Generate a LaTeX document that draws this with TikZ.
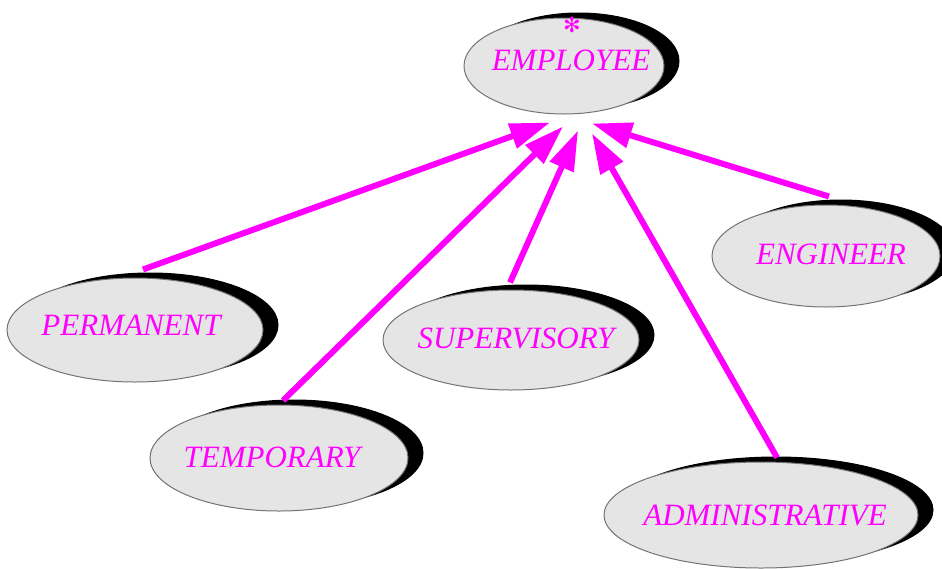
\documentclass[tikz,border=0pt]{standalone}
\usepackage{fontspec}
\setmainfont{Liberation Serif}
\newfontfamily\symfont{DejaVu Sans}
\usetikzlibrary{shapes.geometric,shadows,arrows.meta}
\definecolor{mag}{RGB}{255,0,255}
\definecolor{blobfill}{RGB}{229,229,229}
\tikzset{
  blob/.style={ellipse, inner sep=0pt, fill=blobfill, draw=black!55, line width=1pt,
    general shadow={shadow xshift=15pt, shadow yshift=5pt, fill=black, draw=black}},
  lbl/.style={text=mag, font=\fontsize{31}{31}\selectfont\itshape, inner sep=0pt},
  isa/.style={draw=mag, line width=6pt, -{Triangle[length=40pt,width=25pt]}},
}
\begin{document}
\begin{tikzpicture}[x=1pt,y=-1pt]
\useasboundingbox (0,0) rectangle (942,568);
\node[blob, minimum width=200pt, minimum height=96pt] (emp) at (564,66) {};
\node[lbl] (empT) at (571,60) {EMPLOYEE};
\node[text=mag, font=\symfont\fontsize{21}{21}\selectfont, inner sep=0pt] (star) at (572,25) {✻};
\node[blob, minimum width=228pt, minimum height=102pt] (eng) at (826,256) {};
\node[lbl] (engT) at (831,254) {ENGINEER};
\node[blob, minimum width=256pt, minimum height=104pt] (perm) at (135,330) {};
\node[lbl] (permT) at (131,325) {PERMANENT};
\node[blob, minimum width=256pt, minimum height=100pt] (sup) at (511,340) {};
\node[lbl] (supT) at (516,338) {SUPERVISORY};
\node[blob, minimum width=258pt, minimum height=106pt] (temp) at (279,458) {};
\node[lbl] (tempT) at (272,457) {TEMPORARY};
\node[blob, minimum width=314pt, minimum height=106pt] (adm) at (761,515) {};
\node[lbl] (admT) at (765,515) {ADMINISTRATIVE};
\draw[isa] ([shift={(8pt,8pt)}]perm.north) -- ([shift={(-14pt,-8pt)}]emp.south);
\draw[isa] ([shift={(4pt,4pt)}]temp.north) -- ([shift={(-1pt,-12pt)}]emp.south);
\draw[isa] ([shift={(-1pt,7pt)}]sup.north) -- ([shift={(14pt,-16pt)}]emp.south);
\draw[isa] ([shift={(16pt,4pt)}]adm.north) -- ([shift={(28pt,-19pt)}]emp.south);
\draw[isa] ([shift={(3pt,8pt)}]eng.north) -- ([shift={(28pt,-9pt)}]emp.south);
\end{tikzpicture}
\end{document}
